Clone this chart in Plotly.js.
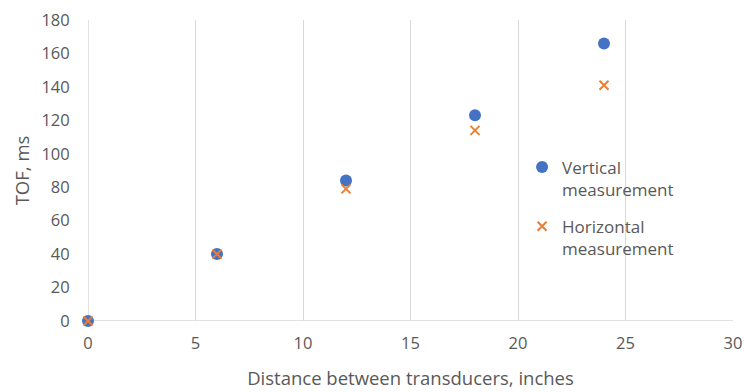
<!DOCTYPE html>
<html>
<head>
<meta charset="utf-8">
<script src="https://cdn.plot.ly/plotly-3.0.1.min.js"></script>
<style>
  html, body { margin: 0; padding: 0; background: #fff; }
  #chart { width: 744px; height: 392px; }
</style>
</head>
<body>
<div id="chart"></div>
<script>
// Distance between transducers (inches)
const distance = [0, 6, 12, 18, 24];
// Time of flight (ms) for each orientation
const verticalTOF = [0, 40, 84, 123, 166];
const horizontalTOF = [0, 40, 79, 114, 141];
const xTicks = [0, 5, 10, 15, 20, 25, 30];
const yTicks = [0, 20, 40, 60, 80, 100, 120, 140, 160, 180];

const textColor = '#595959';
const gridColor = '#d9d9d9';
const fontFamily = '"Open Sans", Lato, sans-serif';

const traces = [
  {
    x: distance,
    y: verticalTOF,
    name: 'Vertical<br>measurement',
    type: 'scatter',
    mode: 'markers',
    legendgroup: 'v',
    cliponaxis: false,
    marker: { symbol: 'circle', size: 12, color: '#4472C4' }
  },
  {
    x: distance,
    y: horizontalTOF,
    name: 'Horizontal<br>measurement',
    type: 'scatter',
    mode: 'markers',
    legendgroup: 'h',
    cliponaxis: false,
    marker: { symbol: 'x-thin-open', size: 9, color: '#ED7D31',
              line: { color: '#ED7D31', width: 2 } }
  }
];

const layout = {
  width: 744,
  height: 392,
  margin: { l: 88, r: 11, t: 20, b: 71 },
  paper_bgcolor: '#ffffff',
  plot_bgcolor: '#ffffff',
  font: { family: fontFamily, size: 16, color: textColor },
  showlegend: true,
  legend: {
    x: 0.673, y: 0.57, xanchor: 'left', yanchor: 'top',
    bgcolor: 'rgba(0,0,0,0)',
    font: { family: fontFamily, size: 17, color: textColor },
    traceorder: 'grouped',
    tracegroupgap: 12,
    valign: 'top',
    itemwidth: 30
  },
  xaxis: {
    range: [0, 30],
    tickvals: xTicks,
    ticktext: xTicks.map(String),
    showgrid: true,
    gridcolor: gridColor,
    gridwidth: 1,
    zeroline: false,
    showline: false,
    ticks: 'outside',
    ticklen: 7,
    tickcolor: 'rgba(0,0,0,0)',
    tickfont: { size: 16.5, color: textColor },
    title: { text: 'Distance between transducers, inches', font: { size: 18.5, color: textColor }, standoff: 19 }
  },
  yaxis: {
    range: [0, 180],
    tickvals: yTicks,
    ticktext: yTicks.map(String),
    showgrid: false,
    zeroline: false,
    showline: false,
    ticks: 'outside',
    ticklen: 14,
    tickcolor: 'rgba(0,0,0,0)',
    tickfont: { size: 16.5, color: textColor },
    title: { text: 'TOF, ms', font: { size: 18.5, color: textColor }, standoff: 6 }
  },
  shapes: [
    // horizontal axis baseline
    { type: 'line', xref: 'paper', yref: 'y', x0: 0, x1: 1, y0: 0, y1: 0,
      line: { color: gridColor, width: 1.5 }, layer: 'below' },
    // vertical axis line at x = 0
    { type: 'line', xref: 'x', yref: 'paper', x0: 0, x1: 0, y0: 0, y1: 1,
      line: { color: gridColor, width: 1.5 }, layer: 'below' }
  ]
};

Plotly.newPlot('chart', traces, layout, { displayModeBar: false, staticPlot: true });
</script>
</body>
</html>
